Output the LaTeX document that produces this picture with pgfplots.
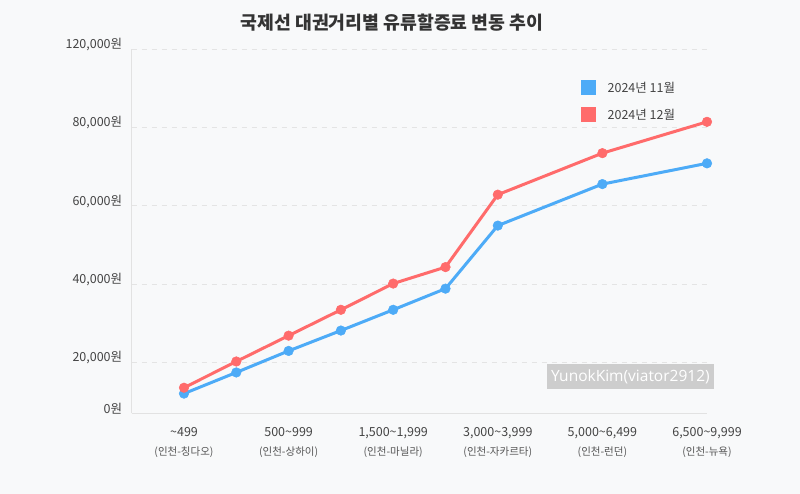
\documentclass[border=0pt]{standalone}
\usepackage{fontspec}
\setmainfont{Noto Sans CJK KR}
\newfontfamily\wmfont{Open Sans}
\usepackage{pgfplots}
\pgfplotsset{compat=1.18}
\definecolor{bg}{HTML}{F8F9FA}
\definecolor{cblue}{HTML}{4DABF7}
\definecolor{cred}{HTML}{FF6B6B}
\definecolor{gridc}{HTML}{E4E4E4}
\definecolor{axc}{HTML}{E2E2E2}
\definecolor{txt}{HTML}{444444}
\definecolor{subc}{HTML}{555555}
\definecolor{titlec}{HTML}{333333}
\definecolor{wmbg}{HTML}{CDCDCD}
\newcommand{\sub}[1]{{\fontsize{10.5}{12}\selectfont\color{subc}#1}}
\begin{document}
\begin{tikzpicture}[x=1pt,y=1pt]
\fill[bg] (0,0) rectangle (800,494);
\useasboundingbox (0,0) rectangle (800,494);
\begin{axis}[
  at={(131.7pt,80.7pt)}, anchor=south west,
  scale only axis, width=575.3pt, height=364.3pt,
  xmin=-1, xmax=10, ymin=6970, ymax=100000,
  axis x line*=bottom, axis y line*=left,
  axis line style={draw=axc, line width=1pt, -},
  major tick length=0pt,
  scaled y ticks=false,
  xtick={0,2,4,6,8,10},
  xticklabels={
    {\textasciitilde499\\\sub{(인천-칭다오)}},
    {500\textasciitilde999\\\sub{(인천-상하이)}},
    {1,500\textasciitilde1,999\\\sub{(인천-마닐라)}},
    {3,000\textasciitilde3,999\\\sub{(인천-자카르타)}},
    {5,000\textasciitilde6,499\\\sub{(인천-런던)}},
    {6,500\textasciitilde9,999\\\sub{(인천-뉴욕)}}},
  xticklabel style={align=center, font=\fontsize{12.5}{19}\selectfont, text=txt, yshift=-11pt},
  ytick={20000,40000,60000,80000,100000},
  yticklabels={{20,000원},{40,000원},{60,000원},{80,000원},{120,000원}},
  extra y ticks={6970},
  extra y tick labels={0원},
  extra y tick style={grid=none},
  yticklabel style={font=\fontsize{12.5}{14}\selectfont, text=txt, yshift=4.5pt, xshift=-6pt},
  /pgf/number format/assume math mode=true,
  ymajorgrids,
  grid style={gridc, dash pattern=on 5pt off 5pt, line width=0.8pt},
  clip=false,
  legend style={at={(0.780,0.915)}, anchor=north west, draw=none, fill=none,
    font=\fontsize{12.5}{14}\selectfont, text=txt, inner sep=0pt, row sep=12pt,
    nodes={inner sep=1pt}},
  legend cell align=left,
  legend image code/.code={\path[#1, draw=none, fill] (0pt,-7.5pt) rectangle (15pt,7.5pt);},
]
\addplot[color=cblue, line width=3pt, mark=*, mark size=4.8pt, mark options={solid, fill=cblue, draw=cblue, line width=0.5pt}]
coordinates {(0,12000)(1,17400)(2,22900)(3,28100)(4,33400)(5,38800)(6,54900)(8,65500)(10,70800)};
\addlegendentry{\hspace{11pt}2024년 11월}
\addplot[color=cred, line width=3pt, mark=*, mark size=4.8pt, mark options={solid, fill=cred, draw=cred, line width=0.5pt}]
coordinates {(0,13500)(1,20200)(2,26800)(3,33400)(4,40100)(5,44300)(6,62800)(8,73400)(10,81400)};
\addlegendentry{\hspace{11pt}2024년 12월}
\end{axis}
\node[font=\fontsize{18.3}{22}\selectfont\bfseries, text=titlec] at (392,471) {국제선 대권거리별 유류할증료 변동 추이};
\node[fill=wmbg, text=white, font=\wmfont\fontsize{15.5}{18}\selectfont, minimum width=167.3pt, minimum height=25pt, inner sep=0pt] at (630.35,117.2) {YunokKim(viator2912)};
\end{tikzpicture}
\end{document}
